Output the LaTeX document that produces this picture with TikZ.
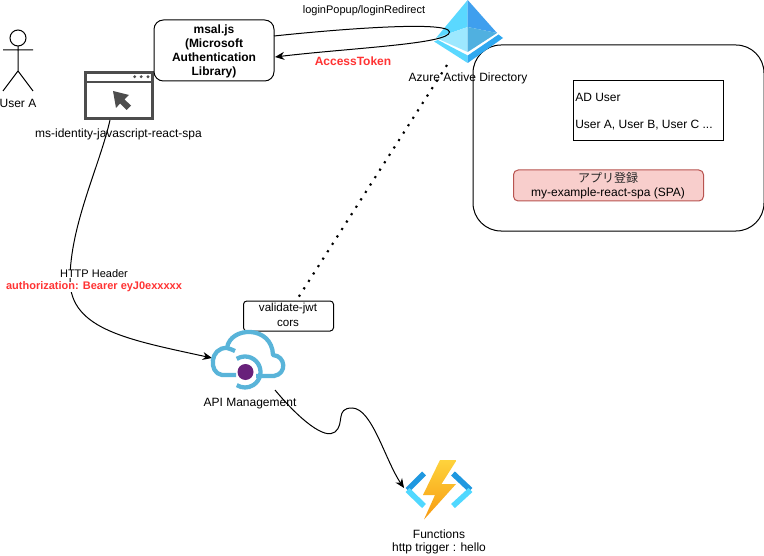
\documentclass[tikz,border=0pt]{standalone}
\usepackage{fontspec}
\setmainfont{Liberation Sans}
\newfontfamily\cjk{Noto Sans CJK JP}
\usetikzlibrary{arrows.meta}
\definecolor{azA}{HTML}{5AD8FF}
\definecolor{azB}{HTML}{3F9FEE}
\definecolor{azC}{HTML}{9DE8FF}
\definecolor{azD}{HTML}{50B0E0}
\definecolor{azE}{HTML}{2FA8F0}
\definecolor{apiblue}{HTML}{59B4D9}
\definecolor{apipurple}{HTML}{68217A}
\definecolor{fnblue}{HTML}{1F98E0}
\definecolor{fncyan}{HTML}{50D8FF}
\definecolor{boltA}{HTML}{FED33C}
\definecolor{boltB}{HTML}{F79A10}
\definecolor{winc}{HTML}{4D4D4D}
\definecolor{redtxt}{HTML}{FF3333}
\definecolor{pinkf}{HTML}{F8CECC}
\definecolor{pinkd}{HTML}{B85450}
\tikzset{
 lbl/.style={font=\fontsize{9}{11}\selectfont, text=black, inner sep=0pt, align=center},
 small/.style={lbl,font=\fontsize{8.25}{10}\selectfont},
 smallred/.style={lbl,text=redtxt,font=\fontsize{8.25}{10}\selectfont\bfseries},
 box/.style={draw=black, line width=0.75pt, fill=white, outer sep=0pt, inner sep=0pt, anchor=north west},
 conn/.style={draw=black, line width=0.75pt},
 tip/.style={-{Stealth[length=7pt,width=6pt]}},
}
\begin{document}
\begin{tikzpicture}[x=0.75pt,y=-0.75pt]
\useasboundingbox (0,0) rectangle (764,556);
\fill[white] (0,0) rectangle (764,556);
% big container
\node[box,fill=none,rounded corners=21pt,minimum width=291*0.75pt,minimum height=186*0.75pt] (aad) at (473,45) {};
% AD user box
\node[box,minimum width=150*0.75pt,minimum height=60*0.75pt] (user) at (573.5,80.5) {};
\node[lbl,anchor=west] (usera) at (575,97) {AD User};
\node[lbl,anchor=west] (userb) at (575,125) {User A, User B, User C ...};
% app reg
\node[box,draw=pinkd,fill=pinkf,rounded corners=3.5pt,minimum width=190*0.75pt,minimum height=31*0.75pt] (app) at (513.5,170) {};
\node[lbl,text=black!85] (appt) at (608,178) {\cjk アプリ登録};
\node[lbl] (appb) at (608,193) {my-example-react-spa (SPA)};
% dotted line ends
\coordinate (dotA) at (447,65);
\coordinate (dotB) at (298,298);
\draw[line width=1.6pt,dash pattern=on 1.6pt off 5pt] (dotA) -- (dotB);
% stick figure
\draw[line width=0.75pt] (18,38) circle (8);
\draw[line width=0.75pt] (18,46) -- (18,71) (3,50) -- (33,50) (3,91) -- (18,71) -- (33,91);
\node[lbl] (ua) at (18,103) {User A};
% browser window
\node[box,draw=winc,line width=2.2pt,minimum width=67*0.75pt,minimum height=46*0.75pt] (win) at (85.5,72.5) {};
\draw[winc,line width=2.2pt] (win.north west |- 0,82) -- (win.north east |- 0,82);
\fill[winc] (134.7,76.7) circle (1.6) (141.2,76.7) circle (1.6) (148,76.7) circle (1.6);
\fill[winc] (113,91) -- (129,95) -- (124.5,99.5) -- (131,105.5) -- (126.5,110) -- (120,103.5) -- (116,108) -- cycle;
\node[lbl] (winl) at (118.5,134) {ms-identity-javascript-react-spa};
% connector window to API
\coordinate (apiin) at (212,358);
\draw[conn,tip] (110,120) .. controls (100,165) and (70,225) .. (70,280) .. controls (70,330) and (130,340) .. (apiin);
\node[small,fill=white] (h1) at (94,274) {HTTP Header};
\node[smallred,fill=white] (h2) at (94,287) {authorization: Bearer eyJ0exxxxx};
% msal
\node[box,rounded corners=7pt,minimum width=120*0.75pt,minimum height=61*0.75pt] (msal) at (154,20) {};
\node[lbl,font=\fontsize{9}{10.5}\selectfont\bfseries] (msalt) at (214,51.5) {msal.js\\(Microsoft\\Authentication\\Library)};
% Azure icon
\fill[azA] (467.7,0) -- (436,38) -- (467.7,27) -- cycle;
\fill[azB] (467.7,0) -- (497,33) -- (467.7,27) -- cycle;
\fill[azC] (436,38) -- (467.7,27) -- (467.7,52) -- cycle;
\fill[azD] (497,33) -- (467.7,27) -- (467.7,52) -- cycle;
\fill[azA] (434,41.5) -- (438,40) -- (467.7,55.5) -- (467.7,63) -- cycle;
\fill[azE] (503,38) -- (498.5,34.5) -- (467.7,55.5) -- (467.7,63) -- cycle;
\node[lbl] (azl) at (468,78) {Azure Active Directory};
% login loop
\coordinate (loop) at (449.5,32);
\draw[conn,tip] (274,36) .. controls (330,30) and (449,20) .. (loop) .. controls (450,44) and (350,48) .. (275,57);
\node[small] (l1) at (364,10.5) {loginPopup/loginRedirect};
\node[lbl,text=redtxt,font=\fontsize{9}{11}\selectfont\bfseries] (l2) at (353,61) {AccessToken};
% validate
\node[box,rounded corners=2.5pt,minimum width=90*0.75pt,minimum height=30*0.75pt] (val) at (243.5,301) {};
\node[lbl,font=\fontsize{8.7}{10}\selectfont] (v1) at (288,309) {validate-jwt};
\node[lbl,font=\fontsize{8.7}{10}\selectfont] (v2) at (288,323) {cors};
% API icon
\draw[apiblue,line width=3.2pt,line join=round]
 (236,375) -- (222,375) .. controls (208,373) and (210,347) .. (227,348)
 .. controls (229,349) and (232,349) .. (235,351);
\draw[apiblue,line width=3.2pt,line join=round]
 (227,348) .. controls (230,326) and (272,325) .. (273,355)
 .. controls (286,356) and (287,374) .. (274,376) -- (256,376);
\draw[apiblue,line width=3.2pt] (245,372) ++(-122:15.5) arc[start angle=-122,end angle=122,radius=15.5];
\fill[apipurple] (245.5,372) circle (8);
\node[lbl] (apil) at (250,404) {API Management};
% API to functions
\coordinate (apiout) at (275,390);
\coordinate (fnin) at (404,488);
\draw[conn,tip] (apiout) .. controls (300,420) and (325,440) .. (335,432) .. controls (345,424) and (335,408) .. (352,408) .. controls (372,408) and (385,460) .. (fnin);
% functions icon
\draw[fnblue,line width=4.2pt] (424,473.5) -- (407.5,490);
\draw[fncyan,line width=4.2pt] (407.5,490) -- (424,506);
\draw[fnblue,line width=4.2pt] (453,473.5) -- (470.5,490);
\draw[fncyan,line width=4.2pt] (470.5,490) -- (453,506);
\shade[top color=boltA,bottom color=boltB] (440,460) -- (456.7,460) -- (441.5,484) -- (456,484) -- (424,519.5) -- (435,495) -- (423,495) -- cycle;
\node[lbl] (fn1) at (439,534) {Functions};
\node[lbl] (fn2) at (439,548) {http trigger : hello};
\end{tikzpicture}
\end{document}
